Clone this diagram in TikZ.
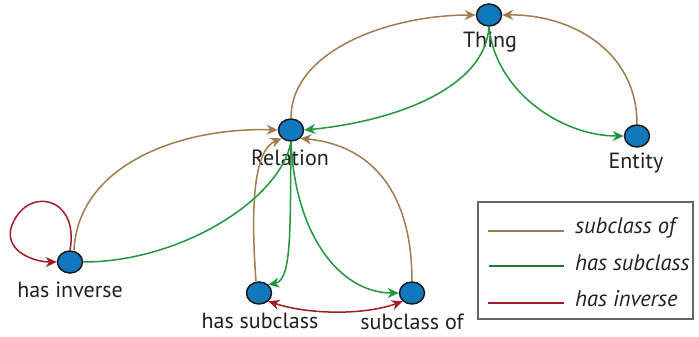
\documentclass[tikz,border=0pt]{standalone}
\usepackage{fontspec}
\setmainfont{PT Sans}
\usetikzlibrary{arrows.meta,shapes.geometric}
\definecolor{cbrown}{RGB}{160,124,78}
\definecolor{cgreen}{RGB}{34,150,60}
\definecolor{cred}{RGB}{160,28,40}
\definecolor{cblue}{RGB}{18,120,190}
\definecolor{ctext}{RGB}{35,31,32}
\begin{document}
\begin{tikzpicture}[x=1pt,y=-1pt,
  vert/.style={ellipse,draw=black!90,line width=1.5pt,fill=cblue,minimum width=25pt,minimum height=22pt,inner sep=0pt},
  lab/.style={text=ctext,font=\fontsize{22}{26}\selectfont,inner sep=0pt},
  legtext/.style={text=ctext,font=\fontsize{22.5}{26}\selectfont\itshape,inner sep=0pt,anchor=west},
  tip/.style={-{Stealth[length=11pt,width=10pt,inset=3.5pt]}},
  edge/.style={line width=1.5pt},
  sub/.style={edge,cbrown,tip},
  has/.style={edge,cgreen,tip},
  inv/.style={edge,cred,tip}]
\useasboundingbox (0,0) rectangle (699,337);
\node[vert] (thing) at (489,15) {};
\node[vert] (rel) at (291,130) {};
\node[vert] (ent) at (637,136) {};
\node[vert] (hi) at (70,262) {};
\node[vert] (hs) at (259,293) {};
\node[vert] (so) at (412,293) {};
\node[lab] (lthing) at (490,42) {Thing};
\node[lab] (lrel) at (290,158) {Relation};
\node[lab] (lent) at (636,163) {Entity};
\node[lab] (lhi) at (70,290) {has inverse};
\node[lab] (lhs) at (260,321) {has subclass};
\node[lab] (lso) at (412,322) {subclass of};
% brown: subclass of
\draw[sub] (rel.north) .. controls (291,50) and (390,15) .. (thing.west);
\draw[sub] (ent.north) .. controls (637,50) and (570,14) .. (thing.east);
\draw[sub] (hi.north) ++(4,0) .. controls (78,165) and (180,127) .. (rel.west);
\draw[sub] (hs.north) ++(-3,0) .. controls (250,200) and (255,150) .. (rel.south west);
\draw[sub] (so.north) .. controls (412,190) and (370,145) .. (rel.south east);
% green: has subclass
\draw[has] (thing.south) .. controls (485,90) and (390,122) .. (rel.east);
\draw[has] (thing.south) .. controls (495,90) and (560,136) .. (ent.west);
\draw[edge,cgreen] (rel.south) .. controls (280,200) and (180,262) .. (hi.east);
\draw[has] (rel.south) .. controls (290,230) and (292,280) .. (hs.north east);
\draw[has] (rel.south) .. controls (295,235) and (340,293) .. (so.west);
% red: has inverse
\draw[inv] (hi.north) .. controls (80,195) and (25,185) .. (11,228) .. controls (5,252) and (35,262) .. (hi.west);
\draw[edge,cred,{Stealth[length=11pt,width=10pt,inset=3.5pt]}-{Stealth[length=11pt,width=10pt,inset=3.5pt]}] (hs.south east) .. controls (310,315) and (365,315) .. (so.south west);
% legend
\node[draw=black!60,line width=1.5pt,minimum width=215pt,minimum height=117pt,inner sep=0pt] (leg) at (585.5,260.5) {};
\coordinate (a1) at (488,231); \coordinate (b1) at (564,231);
\coordinate (a2) at (489,266); \coordinate (b2) at (564,266);
\coordinate (a3) at (488,303); \coordinate (b3) at (564,303);
\draw[edge,cbrown] (a1) -- (b1);
\draw[edge,cgreen!80!black] (a2) -- (b2);
\draw[edge,cred] (a3) -- (b3);
\node[legtext] (t1) at (575,228) {subclass of};
\node[legtext] (t2) at (575,263) {has subclass};
\node[legtext] (t3) at (575,299) {has inverse};
\end{tikzpicture}
\end{document}
